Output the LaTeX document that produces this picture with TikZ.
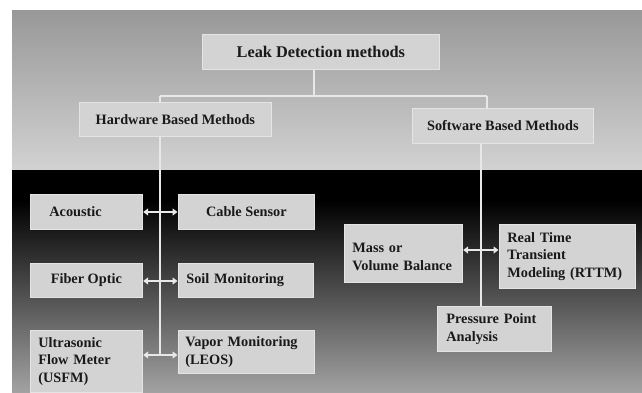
\documentclass[tikz,border=0pt]{standalone}
\usepackage{fontspec}
\setmainfont{Liberation Serif}
\usetikzlibrary{arrows.meta}
\definecolor{boxfill}{RGB}{211,211,211}
\definecolor{boxedge}{RGB}{228,228,228}
\definecolor{linkcol}{RGB}{232,232,232}
\definecolor{skytop}{RGB}{152,152,152}
\definecolor{skybot}{RGB}{210,210,210}
\definecolor{floorbot}{RGB}{162,162,162}
\begin{document}
\begin{tikzpicture}[x=1pt,y=-1pt,
  box/.style={fill=boxfill, draw=boxedge, line width=0.7pt, anchor=north west,
    inner ysep=0pt, text=black!90,
    font=\bfseries\fontsize{14.3}{17.5}\selectfont},
  lbox/.style args={#1/#2/#3}{box, minimum width=#1, minimum height=#2,
    inner xsep=#3, text width=#1-2*#3, align=left},
  cbox/.style 2 args={box, minimum width=#1, minimum height=#2,
    inner xsep=2pt, align=center},
  link/.style={draw=linkcol, line width=1.4pt},
  twoway/.style={link, {Triangle[length=5pt,width=7pt]}-{Triangle[length=5pt,width=7pt]}, shorten <=0.5pt, shorten >=0.5pt}]
\useasboundingbox (0,0) rectangle (642,392);
% backdrop: grey sky above, black-to-grey floor below
\fill[white] (0,0) rectangle (642,392);
\shade[top color=skytop, bottom color=skybot] (12,10) rectangle (642,170);
\fill[black] (12,170) rectangle (642,200);
\shade[top color=black, bottom color=floorbot] (12,200) rectangle (642,392);

% junction points of the tree
\coordinate (lj) at (314,96);
\coordinate (hj) at (160,96);
\coordinate (sj) at (487,96);
\coordinate (hend) at (160,355);
\coordinate (sx) at (481,0);
\coordinate (mr) at (481,250);

% connectors drawn first, boxes sit on top
\draw[link] (hj) -- (sj);
\draw[link] (hj) -- (hend);
\draw[link] (sj) -- (487,108);
\draw[link] (481,143) -- (481,306);

% boxes
\node[cbox={237}{35}, font=\bfseries\fontsize{16.3}{19}\selectfont] (leak) at (202,34) {Leak Detection methods};
\node[cbox={192}{34}] (hw) at (79,102) {Hardware Based Methods};
\node[cbox={181}{35}] (sw) at (412,108) {Software Based Methods};

\node[lbox={112}/{35}/{19}] (acoustic) at (30,194) {Acoustic};
\node[cbox={136}{35}] (cable) at (178,194) {Cable Sensor};
\node[cbox={112}{34}] (fiber) at (30,263) {Fiber Optic};
\node[lbox={135}/{34}/{8}] (soil) at (178,263) {Soil Monitoring};
\node[lbox={112}/{62}/{8}] (usfm) at (30,330) {Ultrasonic\\Flow Meter\\(USFM)};
\node[lbox={136}/{43}/{7}] (vapor) at (178,330) {Vapor Monitoring\\(LEOS)};

\node[lbox={118}/{58}/{8}] (mass) at (344,224) {\rule{0pt}{16pt}Mass or\\Volume Balance};
\node[lbox={136}/{64}/{8}] (rttm) at (499,224) {Real Time\\Transient\\Modeling (RTTM)};
\node[lbox={114}/{45}/{9}] (press) at (437,306) {Pressure Point\\Analysis};

% branch from the title box
\draw[link] (leak.south -| lj) -- (lj);

% two-way links across the spines
\draw[twoway] (acoustic.east |- 0,212) -- (cable.west |- 0,212);
\draw[twoway] (fiber.east |- 0,281) -- (soil.west |- 0,281);
\draw[twoway] (usfm.east |- hend) -- (vapor.west |- hend);
\draw[twoway] (mass.east |- mr) -- (rttm.west |- mr);
\end{tikzpicture}
\end{document}
